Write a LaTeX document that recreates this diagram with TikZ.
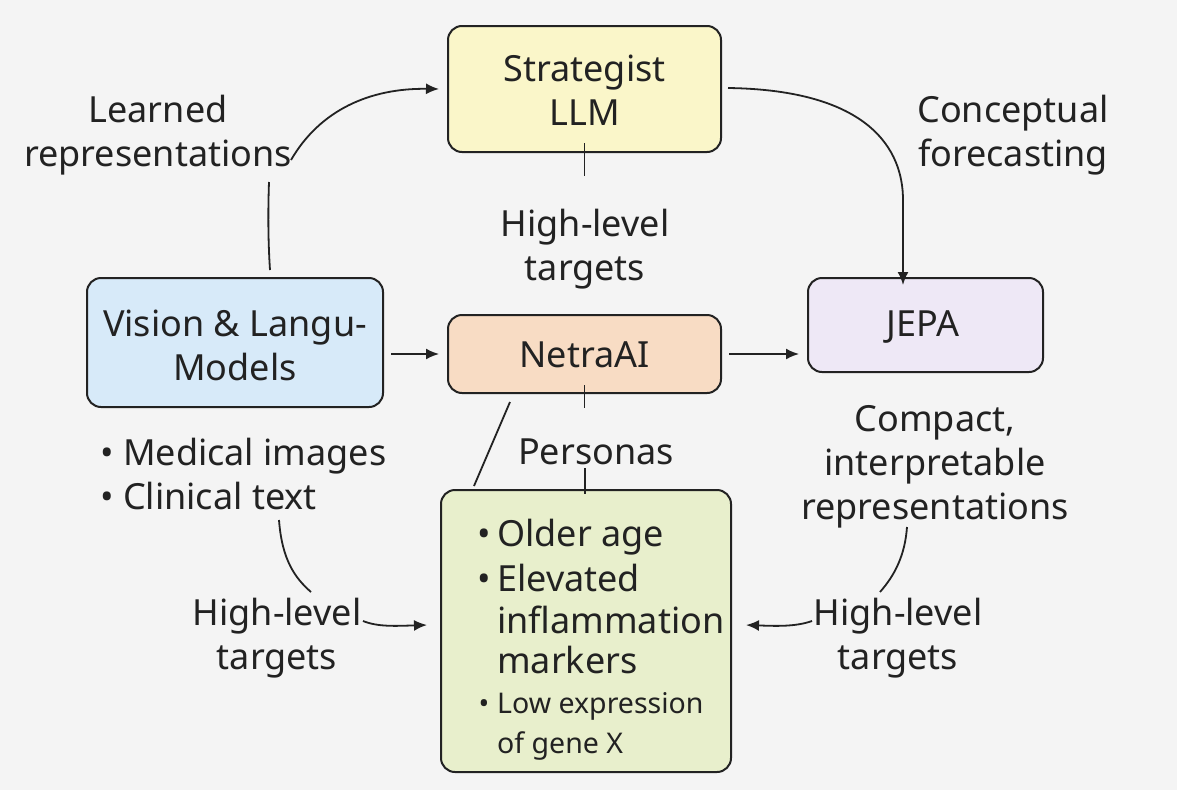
\documentclass[tikz,border=0pt]{standalone}
\usepackage{fontspec}
\setmainfont{Noto Sans}
\usetikzlibrary{arrows.meta,calc}
\definecolor{bgc}{HTML}{F4F4F4}
\definecolor{ink}{HTML}{222222}
\definecolor{yel}{HTML}{FAF6C9}
\definecolor{blu}{HTML}{D7EAF9}
\definecolor{pch}{HTML}{F8DCC4}
\definecolor{lav}{HTML}{EEE8F6}
\definecolor{grn}{HTML}{E8EFCC}
\tikzset{
  boxstyle/.style={draw=ink, line width=2pt, rounded corners=14pt, inner sep=0pt},
  lbl/.style={text=ink, align=center, inner sep=0pt, font=\fontsize{36}{44}\selectfont},
  small/.style={font=\fontsize{28.5}{40}\selectfont},
  conn/.style={draw=ink, line width=1.8pt},
  arr/.style={conn, -{Latex[length=13pt,width=11pt]}},
}
\begin{document}
\begin{tikzpicture}[x=1pt,y=-1pt]
\fill[bgc] (0,0) rectangle (1177,790);
\useasboundingbox (0,0) rectangle (1177,790);

% boxes
\node[boxstyle, fill=yel, minimum width=273pt, minimum height=126pt] (strat) at (584.5,89) {};
\node[lbl] (strattxt) at (584.5,90) {Strategist\\LLM};
\node[boxstyle, fill=blu, minimum width=296pt, minimum height=129pt] (vis) at (235,342.5) {};
\node[lbl] (vistxt) at (235,345) {Vision \& Langu-\\Models};
\node[boxstyle, fill=pch, minimum width=273pt, minimum height=78pt] (netra) at (584.5,354) {};
\node[lbl] (netratxt) at (584.5,355) {NetraAI};
\node[boxstyle, fill=lav, minimum width=235pt, minimum height=94pt] (jepa) at (925.5,325) {};
\node[lbl] (jepatxt) at (923,327) {JEPA};
\node[boxstyle, fill=grn, minimum width=290pt, minimum height=282pt] (pers) at (586,631) {};

% persona contents
\node[lbl, anchor=base] (b1) at (484,546) {•};
\node[lbl, anchor=base west] (p1) at (497,546) {Older age};
\node[lbl, anchor=base] (b2) at (484,591) {•};
\node[lbl, anchor=base west] (p2) at (497,591) {Elevated};
\node[lbl, anchor=base west] (p3) at (497,633) {inflammation};
\node[lbl, anchor=base west] (p4) at (497,673) {markers};
\node[lbl, small, anchor=base] (b3) at (484,713) {•};
\node[lbl, small, anchor=base west] (p5) at (497,713) {Low expression};
\node[lbl, small, anchor=base west] (p6) at (497,753) {of gene X};

% labels
\node[lbl] (learned) at (158,135) {Learned\\representations};
\node[lbl] (concept) at (1013,135) {Conceptual\\forecasting};
\node[lbl] (hlt1) at (585,249) {High-level\\targets};
\node[lbl] (personas) at (596,452) {Personas};
\node[lbl, align=left, anchor=west] (medical) at (100,474) {• Medical images\\• Clinical text};
\node[lbl] (compact) at (935,467) {Compact,\\interpretable\\representations};
\node[lbl] (hlt2) at (277,638) {High-level\\targets};
\node[lbl] (hlt3) at (898,638) {High-level\\targets};

% connectors
\draw[conn] (270,270) .. controls (268,240) and (268,210) .. (269,182);
\draw[arr] (291,160) .. controls (320,110) and (370,88) .. ([xshift=-8pt]strat.west);
\draw[arr] (728,88) .. controls (870,90) and (903,150) .. (903,200) -- ([yshift=-8pt]jepa.north -| 903,0);
\draw[conn] ([yshift=10pt]strat.south) -- ++(0,33);
\draw[arr] ([xshift=7pt]vis.east |- netra.west) -- ([xshift=-8pt]netra.west);
\draw[arr] ([xshift=7pt]netra.east) -- ([xshift=-8pt]netra.east -| jepa.west);
\draw[conn] (510,402) -- (474,486);
\draw[conn] ([yshift=9pt]netra.south) -- ++(0,23);
\draw[conn] (585,468) -- ([yshift=-5pt]pers.north -| 585,0);
\draw[conn] (279,520) .. controls (282,560) and (295,578) .. (311,592);
\draw[arr] (363,621) .. controls (378,627) and (395,626) .. ([xshift=-13pt]pers.west |- 0,625);
\draw[conn] (907,527) .. controls (905,555) and (895,575) .. (880,592);
\draw[arr] (812,621) .. controls (795,627) and (775,626) .. ([xshift=14pt]pers.east |- 0,625);
\end{tikzpicture}
\end{document}
